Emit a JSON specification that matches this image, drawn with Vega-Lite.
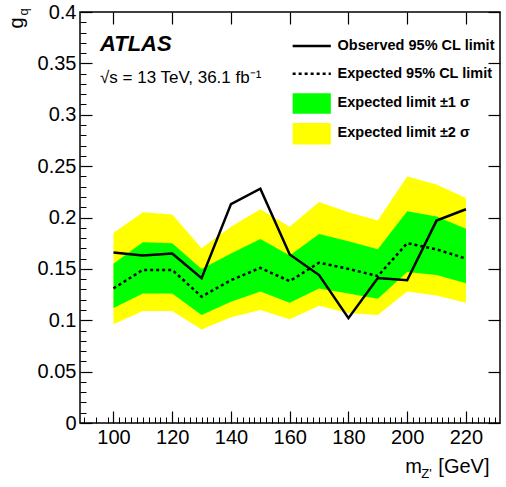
{
  "$schema": "https://vega.github.io/schema/vega-lite/v6.json",
  "width": 420,
  "height": 411,
  "autosize": {"type": "none"},
  "padding": {"left": 80, "top": 12, "right": 6, "bottom": 64},
  "background": "white",
  "config": {
    "font": "Liberation Sans",
    "view": {"stroke": "black", "strokeWidth": 1.5},
    "axis": {"grid": false, "domain": false, "labelFont": "Liberation Sans", "labelFontSize": 20, "labelColor": "black", "tickColor": "black", "title": null}
  },
  "datasets": {
    "limits": [
      {"m": 100, "obs": 0.166, "exp": 0.131, "g1lo": 0.112, "g1hi": 0.155, "y2lo": 0.096, "y2hi": 0.185},
      {"m": 110, "obs": 0.163, "exp": 0.149, "g1lo": 0.126, "g1hi": 0.176, "y2lo": 0.109, "y2hi": 0.205},
      {"m": 120, "obs": 0.165, "exp": 0.149, "g1lo": 0.126, "g1hi": 0.175, "y2lo": 0.109, "y2hi": 0.203},
      {"m": 130, "obs": 0.141, "exp": 0.123, "g1lo": 0.105, "g1hi": 0.150, "y2lo": 0.091, "y2hi": 0.170},
      {"m": 140, "obs": 0.213, "exp": 0.139, "g1lo": 0.118, "g1hi": 0.165, "y2lo": 0.103, "y2hi": 0.191},
      {"m": 150, "obs": 0.228, "exp": 0.151, "g1lo": 0.128, "g1hi": 0.179, "y2lo": 0.110, "y2hi": 0.208},
      {"m": 160, "obs": 0.164, "exp": 0.138, "g1lo": 0.117, "g1hi": 0.163, "y2lo": 0.101, "y2hi": 0.191},
      {"m": 170, "obs": 0.144, "exp": 0.156, "g1lo": 0.131, "g1hi": 0.184, "y2lo": 0.114, "y2hi": 0.215},
      {"m": 180, "obs": 0.102, "exp": 0.150, "g1lo": 0.126, "g1hi": 0.177, "y2lo": 0.107, "y2hi": 0.205},
      {"m": 190, "obs": 0.141, "exp": 0.143, "g1lo": 0.121, "g1hi": 0.169, "y2lo": 0.105, "y2hi": 0.197},
      {"m": 200, "obs": 0.139, "exp": 0.175, "g1lo": 0.147, "g1hi": 0.206, "y2lo": 0.128, "y2hi": 0.240},
      {"m": 210, "obs": 0.197, "exp": 0.169, "g1lo": 0.144, "g1hi": 0.201, "y2lo": 0.124, "y2hi": 0.232},
      {"m": 220, "obs": 0.208, "exp": 0.160, "g1lo": 0.136, "g1hi": 0.189, "y2lo": 0.117, "y2hi": 0.219}
    ],
    "legendLines": [
      {"x": 161, "x2": 174, "y": 0.367, "style": "obs"},
      {"x": 161, "x2": 174, "y": 0.340, "style": "exp"}
    ],
    "legendBoxes": [
      {"x": 161, "x2": 174, "y": 0.321, "y2": 0.301, "band": "g"},
      {"x": 161, "x2": 174, "y": 0.292, "y2": 0.271, "band": "y"}
    ],
    "legendText": [
      {"x": 176.3, "y": 0.367, "t": "Observed 95% CL limit"},
      {"x": 176.3, "y": 0.340, "t": "Expected 95% CL limit"},
      {"x": 176.3, "y": 0.311, "t": "Expected limit ±1 σ"},
      {"x": 176.3, "y": 0.282, "t": "Expected limit ±2 σ"}
    ],
    "labels": [
      {"x": 210.6, "y": -0.043, "t": "[GeV]", "size": 20, "angle": 0},
      {"x": 199.3, "y": -0.043, "t": "m", "size": 20, "angle": 0},
      {"x": 204.8, "y": -0.05, "t": "Z'", "size": 13, "angle": 0},
      {"x": 67.2, "y": 0.384, "t": "g", "size": 20, "angle": 270},
      {"x": 69.4, "y": 0.3965, "t": "q", "size": 13, "angle": 270}
    ]
  },
  "resolve": {"axis": {"x": "independent", "y": "independent"}},
  "layer": [
    {
      "data": {"name": "limits"},
      "mark": {"type": "area", "color": "#ffff00", "opacity": 1},
      "encoding": {
        "x": {"field": "m", "type": "quantitative", "scale": {"domain": [88.6, 231.6], "nice": false, "zero": false},
          "axis": {"orient": "bottom", "values": [100, 120, 140, 160, 180, 200, 220], "tickSize": -12, "labelPadding": 16, "tickWidth": 1.2}},
        "y": {"field": "y2hi", "type": "quantitative", "scale": {"domain": [0, 0.4], "nice": false},
          "axis": {"orient": "left", "values": [0, 0.05, 0.1, 0.15, 0.2, 0.25, 0.3, 0.35, 0.4], "tickSize": -12, "labelPadding": 16, "tickWidth": 1.2, "format": "~g"}},
        "y2": {"field": "y2lo"}
      }
    },
    {
      "data": {"name": "limits"},
      "mark": {"type": "rule", "strokeWidth": 1},
      "encoding": {
        "x": {"field": "m", "type": "quantitative", "scale": {"domain": [88.6, 231.6], "nice": false, "zero": false},
          "axis": {"orient": "bottom", "values": [90, 94, 98, 102, 104, 106, 108, 110, 112, 114, 116, 118, 122, 124, 126, 128, 130, 132, 134, 136, 138, 142, 144, 146, 148, 150, 152, 154, 156, 158, 162, 164, 166, 168, 170, 172, 174, 176, 178, 182, 184, 186, 188, 190, 192, 194, 196, 198, 202, 204, 206, 208, 210, 212, 214, 216, 218, 222, 224, 226, 228, 230], "tickSize": -6, "labels": false, "tickWidth": 1}},
        "y": {"field": "y2hi", "type": "quantitative", "scale": {"domain": [0, 0.4], "nice": false},
          "axis": {"orient": "left", "values": [0.01, 0.02, 0.03, 0.04, 0.06, 0.07, 0.08, 0.09, 0.11, 0.12, 0.13, 0.14, 0.16, 0.17, 0.18, 0.19, 0.21, 0.22, 0.23, 0.24, 0.26, 0.27, 0.28, 0.29, 0.31, 0.32, 0.33, 0.34, 0.36, 0.37, 0.38, 0.39], "tickSize": -6, "labels": false, "tickWidth": 1}},
        "opacity": {"value": 0}
      }
    },
    {
      "data": {"name": "limits"},
      "mark": {"type": "area", "color": "#00ff00", "opacity": 1},
      "encoding": {
        "x": {"field": "m", "type": "quantitative", "scale": {"domain": [88.6, 231.6], "nice": false, "zero": false},
          "axis": {"orient": "top", "values": [100, 120, 140, 160, 180, 200, 220], "tickSize": -12, "labels": false, "tickWidth": 1.2}},
        "y": {"field": "g1hi", "type": "quantitative", "scale": {"domain": [0, 0.4], "nice": false},
          "axis": {"orient": "right", "values": [0, 0.05, 0.1, 0.15, 0.2, 0.25, 0.3, 0.35, 0.4], "tickSize": -12, "labels": false, "tickWidth": 1.2}},
        "y2": {"field": "g1lo"}
      }
    },
    {
      "data": {"name": "limits"},
      "mark": {"type": "line", "color": "black", "strokeWidth": 2.5, "strokeDash": [3, 3]},
      "encoding": {
        "x": {"field": "m", "type": "quantitative", "axis": null},
        "y": {"field": "exp", "type": "quantitative", "axis": null}
      }
    },
    {
      "data": {"name": "limits"},
      "mark": {"type": "line", "color": "black", "strokeWidth": 2.5},
      "encoding": {
        "x": {"field": "m", "type": "quantitative", "axis": null},
        "y": {"field": "obs", "type": "quantitative", "axis": null}
      }
    },
    {
      "data": {"name": "legendBoxes"},
      "mark": {"type": "rect"},
      "encoding": {
        "x": {"field": "x", "type": "quantitative", "axis": null},
        "x2": {"field": "x2"},
        "y": {"field": "y", "type": "quantitative", "axis": null},
        "y2": {"field": "y2"},
        "color": {"field": "band", "type": "nominal", "scale": {"domain": ["g", "y"], "range": ["#00ff00", "#ffff00"]}, "legend": null}
      }
    },
    {
      "data": {"name": "legendLines"},
      "mark": {"type": "rule", "color": "black", "strokeWidth": 2.5},
      "encoding": {
        "x": {"field": "x", "type": "quantitative", "axis": null},
        "x2": {"field": "x2"},
        "y": {"field": "y", "type": "quantitative", "axis": null},
        "strokeDash": {"field": "style", "type": "nominal", "scale": {"domain": ["obs", "exp"], "range": [[1, 0], [3, 3]]}, "legend": null}
      }
    },
    {
      "data": {"name": "legendText"},
      "mark": {"type": "text", "align": "left", "baseline": "middle", "fontSize": 14.5, "fontWeight": "bold", "font": "Liberation Sans"},
      "encoding": {
        "x": {"field": "x", "type": "quantitative", "axis": null},
        "y": {"field": "y", "type": "quantitative", "axis": null},
        "text": {"field": "t"}
      }
    },
    {
      "data": {"values": [{"x": 95.4, "y": 0.369, "t": "ATLAS"}]},
      "mark": {"type": "text", "align": "left", "baseline": "middle", "fontSize": 22, "fontWeight": "bold", "fontStyle": "italic", "font": "Liberation Sans"},
      "encoding": {
        "x": {"field": "x", "type": "quantitative", "axis": null},
        "y": {"field": "y", "type": "quantitative", "axis": null},
        "text": {"field": "t"}
      }
    },
    {
      "data": {"values": [{"x": 95.4, "y": 0.336, "t": "√s = 13 TeV, 36.1 fb⁻¹"}]},
      "mark": {"type": "text", "align": "left", "baseline": "middle", "fontSize": 17, "font": "Liberation Sans"},
      "encoding": {
        "x": {"field": "x", "type": "quantitative", "axis": null},
        "y": {"field": "y", "type": "quantitative", "axis": null},
        "text": {"field": "t"}
      }
    },
    {
      "data": {"name": "labels"},
      "mark": {"type": "text", "baseline": "middle", "align": "left", "font": "Liberation Sans"},
      "encoding": {
        "x": {"field": "x", "type": "quantitative", "axis": null},
        "y": {"field": "y", "type": "quantitative", "axis": null},
        "text": {"field": "t"},
        "size": {"field": "size", "type": "quantitative", "scale": null},
        "angle": {"field": "angle", "type": "quantitative", "scale": null}
      }
    }
  ]
}
